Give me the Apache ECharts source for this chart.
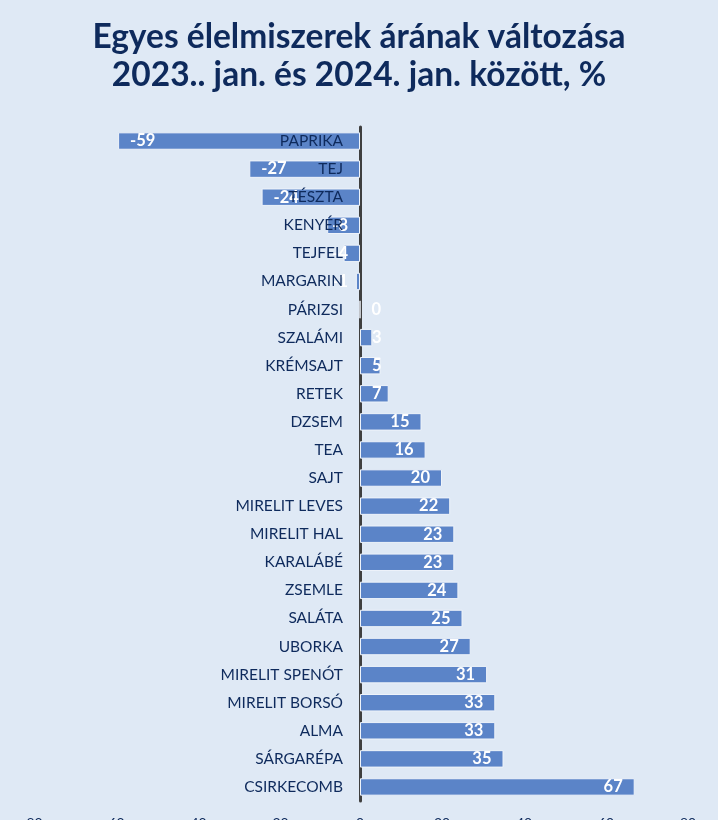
<!DOCTYPE html>
<html><head><meta charset="utf-8">
<script src="https://cdn.jsdelivr.net/npm/echarts@6/dist/echarts.min.js"></script>
<style>html,body{margin:0;padding:0;background:#dfe9f5;}#c{width:718px;height:820px;}</style>
</head><body><div id="c"></div>
<script>
const titleText = 'Egyes élelmiszerek árának változása\n2023.. jan. és 2024. jan. között, %';
const categories = ['PAPRIKA','TEJ','TÉSZTA','KENYÉR','TEJFEL','MARGARIN','PÁRIZSI','SZALÁMI','KRÉMSAJT','RETEK','DZSEM','TEA','SAJT','MIRELIT LEVES','MIRELIT HAL','KARALÁBÉ','ZSEMLE','SALÁTA','UBORKA','MIRELIT SPENÓT','MIRELIT BORSÓ','ALMA','SÁRGARÉPA','CSIRKECOMB'];
const values = [-59,-27,-24,-8,-4,-1,0,3,5,7,15,16,20,22,23,23,24,25,27,31,33,33,35,67];
const xTicks = [-80,-60,-40,-20,0,20,40,60,80];

const data = values.map(v => {
  let pos;
  if (v < 0) pos = (v <= -10) ? 'insideLeft' : 'insideRight';
  else pos = (v >= 10) ? 'insideRight' : 'insideLeft';
  return { value: v, label: { position: pos } };
});
const nameBase = categories.map(() => 0);

const chart = echarts.init(document.getElementById('c'));
chart.setOption({
  backgroundColor: '#dfe9f5',
  animation: false,
  title: {
    text: titleText, left: 'center', top: 13,
    textStyle: { fontFamily: 'Lato', fontWeight: 'bold', fontSize: 33.5, color: '#0e2a5c', lineHeight: 38 }
  },
  grid: { left: 32, right: 30, top: 127, bottom: 19, containLabel: false, outerBoundsMode: 'none' },
  xAxis: {
    type: 'value', min: -80, max: 80, interval: 20,
    splitLine: { show: false }, axisLine: { show: false }, axisTick: { show: false },
    axisLabel: { show: true, margin: 15, fontFamily: 'Lato', fontSize: 14, color: '#0e2a5c',
      formatter: v => xTicks.indexOf(v) >= 0 ? String(v) : '' }
  },
  yAxis: {
    type: 'category', data: categories, inverse: true,
    axisLine: { show: true, onZero: true, lineStyle: { color: '#3f3f3f', width: 3 } },
    axisTick: { show: false },
    axisLabel: { show: false }
  },
  series: [{
    type: 'bar', data: data, barCategoryGap: '38%', z: 2,
    itemStyle: { color: '#5b84c8', borderColor: '#eef3fa', borderWidth: 1 },
    label: { show: true, distance: 12, color: '#ffffff', fontFamily: 'Lato', fontWeight: 'bold', fontSize: 16.5 }
  }, {
    type: 'bar', data: nameBase, barGap: '-100%', barCategoryGap: '38%', z: 3,
    itemStyle: { color: 'rgba(0,0,0,0)', borderWidth: 0 }, silent: true,
    label: { show: true, position: 'left', distance: 17, color: '#0e2a5c', fontFamily: 'Lato', fontSize: 15.5,
      formatter: p => categories[p.dataIndex] }
  }]
});
</script></body></html>
